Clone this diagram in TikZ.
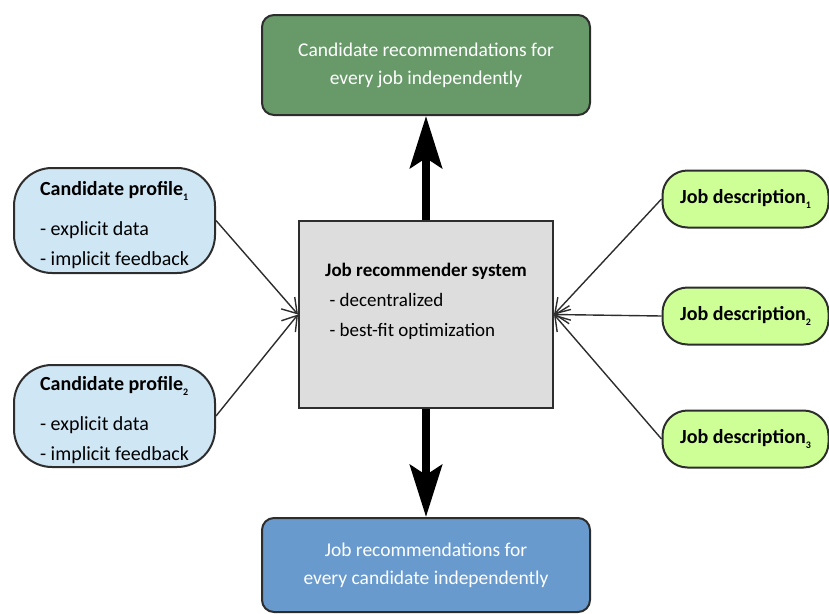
\documentclass[tikz,border=0pt]{standalone}
\usepackage{fontspec}
\setmainfont{Carlito}
\usetikzlibrary{arrows.meta}
\definecolor{topgreen}{RGB}{103,154,104}
\definecolor{botblue}{RGB}{104,154,206}
\definecolor{sysgray}{RGB}{221,221,221}
\definecolor{candblue}{RGB}{207,230,245}
\definecolor{jobgreen}{RGB}{206,255,150}
\definecolor{edge}{RGB}{45,45,45}
\newcommand{\lowsub}[1]{\raisebox{-5pt}{\fontsize{10}{10}\selectfont #1}}
\tikzset{
  outbox/.style={draw=edge, line width=2pt, rounded corners=12pt, text=white, align=center, font=\fontsize{19.5}{28}\selectfont, inner sep=0pt},
  sysbox/.style={draw=edge, line width=2pt, fill=sysgray, align=left, font=\fontsize{19}{30}\selectfont, minimum width=254pt, minimum height=187pt, inner sep=0pt},
  candbox/.style={draw=edge, line width=2pt, fill=candblue, rounded corners=38pt, align=left, font=\fontsize{20}{30}\selectfont, minimum width=201pt, inner sep=0pt},
  jobbox/.style={draw=edge, line width=2pt, fill=jobgreen, rounded corners=25pt, font=\fontsize{20}{24}\selectfont\bfseries, minimum width=166pt, minimum height=57pt, inner sep=0pt},
  feed/.style={draw=edge, line width=1.4pt, -{Straight Barb[length=14pt,width=18pt,line width=1.4pt]}},
  bigarrow/.style={line width=8pt, -{Stealth[length=52pt,width=32pt,inset=10pt]}},
}
\begin{document}
\begin{tikzpicture}[x=1pt,y=-1pt]
\useasboundingbox (0,0) rectangle (829,613);
\node[outbox, fill=topgreen, minimum width=328pt, minimum height=100pt] (top) at (426,65)
  {Candidate recommendations for\\every job independently};
\node[outbox, fill=botblue, minimum width=328pt, minimum height=94pt] (bot) at (426,565)
  {Job recommendations for\\every candidate independently};
\node[sysbox] (sys) at (426,314.5)
  {\textbf{Job recommender system}\\\ - decentralized\\\ - best-fit optimization\\[0pt]};
\node[candbox, minimum height=105pt] (c1) at (114.5,220.5)
  {\rule{0pt}{23pt}\textbf{Candidate profile\lowsub{1}}\\[10pt]- explicit data\\- implicit feedback};
\node[candbox, minimum height=102pt] (c2) at (114.5,416)
  {\rule{0pt}{23pt}\textbf{Candidate profile\lowsub{2}}\\[10pt]- explicit data\\- implicit feedback};
\node[jobbox] (j1) at (745.5,199) {Job description\lowsub{1}};
\node[jobbox] (j2) at (745.5,316) {Job description\lowsub{2}};
\node[jobbox] (j3) at (745.5,439) {Job description\lowsub{3}};
\draw[bigarrow] (sys.north) -- (top.south);
\draw[bigarrow] (sys.south) -- (bot.north);
\draw[feed] (c1.east) -- (sys.west);
\draw[feed] (c2.east) -- (sys.west);
\draw[feed] (j1.west) -- (sys.east);
\draw[feed] (j2.west) -- (sys.east);
\draw[feed] (j3.west) -- (sys.east);
\end{tikzpicture}
\end{document}
